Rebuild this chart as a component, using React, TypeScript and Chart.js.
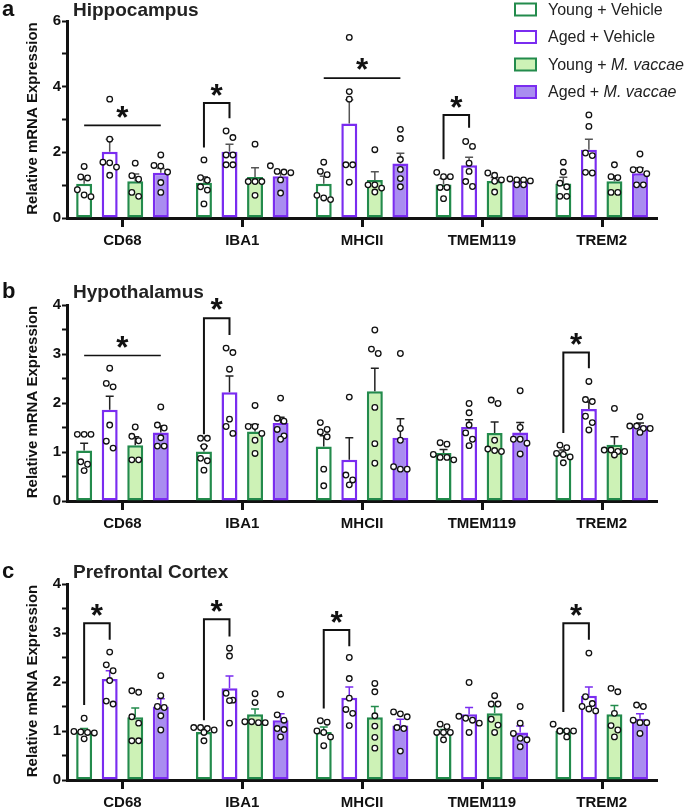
import React, { useEffect, useRef } from "react";
import { Chart, registerables } from "chart.js";
Chart.register(...registerables);

// ---------------- DATA ----------------
const categories = ["CD68", "IBA1", "MHCII", "TMEM119", "TREM2"];
const groupLabels = ["Young + Vehicle", "Aged + Vehicle", "Young + M. vaccae", "Aged + M. vaccae"];

// Hippocampus (a): rows = groups [YV, AV, YM, AM], columns = genes
const hipMeans = [
  [1.04, 1.07, 1.04, 1.02, 1.05],
  [2.02, 2.02, 2.88, 1.61, 2.08],
  [1.12, 1.25, 1.16, 1.13, 1.12],
  [1.38, 1.27, 1.66, 1.12, 1.36],
];
const hipSems = [
  [0.15, 0.19, 0.23, 0.18, 0.19],
  [0.38, 0.23, 0.72, 0.24, 0.32],
  [0.22, 0.28, 0.25, 0.10, 0.17],
  [0.13, 0.12, 0.31, 0.06, 0.17],
];
const hipPoints = [
  [[1.57, 1.25, 1.22, 0.86, 0.7, 0.65], [1.77, 1.23, 1.15, 0.95, 0.85, 0.43], [1.7, 1.42, 1.32, 0.69, 0.61, 0.56], [1.39, 1.26, 1.26, 0.93, 0.93, 0.59], [1.7, 1.4, 1.06, 0.95, 0.66, 0.66]],
  [[3.62, 2.4, 1.7, 1.68, 1.55, 1.3], [2.65, 2.45, 1.92, 1.92, 1.62, 1.62], [5.5, 3.85, 3.62, 1.62, 1.62, 1.09], [2.33, 2.18, 1.67, 1.42, 1.11, 0.96], [3.14, 2.79, 1.98, 1.9, 1.39, 1.37]],
  [[1.67, 1.29, 1.18, 0.78, 0.66], [2.25, 1.11, 1.11, 1.11, 0.69], [2.08, 1.01, 1.01, 0.91, 0.79], [1.37, 1.3, 1.16, 1.12, 0.79], [1.62, 1.26, 1.23, 0.78, 0.78]],
  [[1.92, 1.6, 1.58, 1.4, 1.08, 0.78], [1.59, 1.42, 1.4, 1.38, 1.16, 0.76], [2.7, 2.42, 1.78, 1.48, 1.2, 0.95], [1.19, 1.16, 1.16, 1.13, 1.01, 1.01], [1.95, 1.47, 1.47, 1.35, 1.01, 1.01]],
];
const hipSig = [
  { cat: 0, kind: "line", a: 0, b: 3, top: 2.82, star: 3.24 },
  { cat: 1, kind: "bracket", a: 0, b: 1, top: 3.5, left: 2.15, right: 3.04, star: 3.9 },
  { cat: 2, kind: "line", a: 0, b: 3, top: 4.26, star: 4.68 },
  { cat: 3, kind: "bracket", a: 0, b: 1, top: 3.14, left: 1.79, right: 2.75, star: 3.54 },
];

// Hypothalamus (b)
const hypMeans = [
  [1.03, 1.01, 1.11, 0.98, 0.97],
  [1.86, 2.22, 0.84, 1.51, 1.88],
  [1.14, 1.42, 2.24, 1.39, 1.15],
  [1.4, 1.59, 1.29, 1.4, 1.54],
];
const hypSems = [
  [0.15, 0.11, 0.22, 0.07, 0.07],
  [0.28, 0.33, 0.45, 0.15, 0.14],
  [0.17, 0.14, 0.47, 0.22, 0.16],
  [0.13, 0.12, 0.39, 0.2, 0.05],
];
const hypPoints = [
  [[1.36, 1.36, 1.36, 0.8, 0.75, 0.62], [1.28, 1.28, 1.11, 0.87, 0.82, 0.63], [1.6, 1.46, 1.41, 1.31, 0.65, 0.31], [1.19, 1.16, 0.95, 0.89, 0.89, 0.84], [1.14, 1.09, 0.97, 0.95, 0.9, 0.78]],
  [[2.71, 2.4, 2.33, 1.55, 1.22, 1.08], [3.12, 3.03, 2.69, 1.67, 1.52, 1.38], [2.12, 0.53, 0.43, 0.33], [1.99, 1.8, 1.55, 1.39, 1.26, 1.13], [2.44, 2.07, 2.03, 1.73, 1.6, 1.45]],
  [[1.51, 1.32, 1.23, 0.84, 0.84], [1.95, 1.52, 1.52, 1.38, 1.24, 0.97], [3.49, 3.1, 3.01, 1.91, 1.17, 0.77], [2.06, 1.99, 1.24, 1.06, 1.03, 1.01], [1.89, 1.04, 1.04, 1.01, 1.01, 0.94]],
  [[1.92, 1.55, 1.49, 1.29, 1.12, 1.12], [2.1, 1.69, 1.63, 1.46, 1.33, 1.26], [3.01, 1.48, 1.24, 0.7, 0.65, 0.65], [2.25, 1.5, 1.26, 1.26, 1.18, 0.96], [1.72, 1.53, 1.53, 1.48, 1.48, 1.4]],
];
const hypSig = [
  { cat: 0, kind: "line", a: 0, b: 3, top: 2.97, star: 3.25 },
  { cat: 1, kind: "bracket", a: 0, b: 1, top: 3.73, left: 1.36, right: 3.39, star: 4.03 },
  { cat: 4, kind: "bracket", a: 0, b: 1, top: 3.03, left: 1.39, right: 2.71, star: 3.31 },
];

// Prefrontal Cortex (c)
const pfcMeans = [
  [1.0, 0.98, 0.98, 0.98, 1.0],
  [2.06, 1.87, 1.68, 1.34, 1.72],
  [1.28, 1.34, 1.28, 1.36, 1.34],
  [1.5, 1.22, 1.11, 0.97, 1.25],
];
const pfcSems = [
  [0.05, 0.05, 0.1, 0.05, 0.03],
  [0.17, 0.25, 0.22, 0.14, 0.18],
  [0.19, 0.11, 0.22, 0.14, 0.18],
  [0.16, 0.13, 0.13, 0.13, 0.1],
];
const pfcPoints = [
  [[1.26, 0.99, 0.98, 0.97, 0.96, 0.84], [1.07, 1.07, 1.05, 1.02, 0.97, 0.8], [1.21, 1.18, 1.0, 0.97, 0.88, 0.7], [1.14, 1.09, 0.97, 0.97, 0.97, 0.82], [1.14, 1.0, 1.0, 1.0, 1.0, 0.88]],
  [[2.61, 2.35, 2.23, 2.03, 1.61, 1.55], [2.69, 2.53, 1.77, 1.63, 1.62, 1.16], [2.5, 2.07, 1.67, 1.44, 1.36, 1.11], [1.99, 1.3, 1.26, 1.22, 1.16, 0.97], [2.59, 1.7, 1.56, 1.5, 1.45, 1.41]],
  [[1.82, 1.79, 1.29, 1.16, 0.8, 0.8], [1.76, 1.58, 1.19, 1.19, 1.17, 1.17], [1.97, 1.8, 1.31, 1.1, 0.87, 0.65], [1.72, 1.55, 1.55, 1.24, 1.12, 0.97], [1.87, 1.8, 1.36, 1.11, 1.02, 0.88]],
  [[2.13, 1.72, 1.5, 1.48, 1.31, 1.02], [1.75, 1.33, 1.22, 1.05, 1.03, 0.88], [1.39, 1.35, 1.29, 1.07, 1.05, 0.59], [1.5, 1.16, 0.95, 0.85, 0.82, 0.68], [1.53, 1.5, 1.22, 1.17, 1.17, 0.95]],
];
const pfcSig = [
  { cat: 0, kind: "bracket", a: 0, b: 1, top: 3.2, left: 1.53, right: 2.86, star: 3.47 },
  { cat: 1, kind: "bracket", a: 0, b: 1, top: 3.28, left: 1.22, right: 2.93, star: 3.55 },
  { cat: 2, kind: "bracket", a: 0, b: 1, top: 3.06, left: 1.46, right: 2.73, star: 3.33 },
  { cat: 4, kind: "bracket", a: 0, b: 1, top: 3.2, left: 1.39, right: 2.86, star: 3.47 },
];

// ---------------- STYLE ----------------
const FONT = '"Liberation Sans", Arial, Helvetica, sans-serif';
const GREEN = "#238b4c";
const LIGHT_GREEN = "#cdf2b6";
const PURPLE = "#7a2cf0";
const LAVENDER = "#a98df0";
const borderColors = [GREEN, PURPLE, GREEN, PURPLE];
const fillColors = ["#ffffff", "#ffffff", LIGHT_GREEN, LAVENDER];

const W = 685;
const AREA_LEFT = 67;
const AREA_RIGHT = 657;
const X_MIN = -0.463;
const X_MAX = 4.462;
const CAT_PCT = 0.853;
const BAR_PCT = 0.625;
const X_TICK_LEN = 9;

type Sig = { cat: number; kind: string; a: number; b: number; top: number; left?: number; right?: number; star: number };
type PanelSpec = {
  letter: string;
  title: string;
  top: number;
  height: number;
  areaTop: number;
  areaBottom: number;
  titleBaseline: number;
  yMax: number;
  yStep: number;
  yLabelEvery: number;
  means: number[][];
  sems: number[][];
  points: number[][][];
  sig: Sig[];
  errColors: string[];
  legend: boolean;
};

const panels: PanelSpec[] = [
  {
    letter: "a", title: "Hippocampus", top: 0, height: 262, areaTop: 21, areaBottom: 218, titleBaseline: 16,
    yMax: 6, yStep: 1, yLabelEvery: 2, means: hipMeans, sems: hipSems, points: hipPoints, sig: hipSig,
    errColors: ["#555", "#555", "#555", "#555"], legend: true,
  },
  {
    letter: "b", title: "Hypothalamus", top: 270, height: 262, areaTop: 35, areaBottom: 231, titleBaseline: 28,
    yMax: 4, yStep: 0.5, yLabelEvery: 1, means: hypMeans, sems: hypSems, points: hypPoints, sig: hypSig,
    errColors: ["#222", "#222", "#222", "#222"], legend: false,
  },
  {
    letter: "c", title: "Prefrontal Cortex", top: 540, height: 269, areaTop: 44, areaBottom: 240, titleBaseline: 38,
    yMax: 4, yStep: 0.5, yLabelEvery: 1, means: pfcMeans, sems: pfcSems, points: pfcPoints, sig: pfcSig,
    errColors: [GREEN, PURPLE, GREEN, PURPLE], legend: false,
  },
];

// Horizontal spreading of overlapping dots (pixel offsets), GraphPad-like rows
function swarmOffsets(values: number[], pxPerUnit: number): number[] {
  const idx = values.map((_, i) => i).sort((p, q) => values[q] - values[p]);
  const offsets = new Array(values.length).fill(0);
  const D = 7;
  const SP = 6.8;
  let cluster: number[] = [];
  const flush = () => {
    const n = cluster.length;
    cluster.forEach((k, j) => (offsets[k] = (j - (n - 1) / 2) * SP));
    cluster = [];
  };
  for (const k of idx) {
    if (cluster.length && ((values[cluster[0]] - values[k]) * pxPerUnit >= D || cluster.length >= 4)) flush();
    cluster.push(k);
  }
  flush();
  return offsets;
}

function drawStar(ctx: CanvasRenderingContext2D, x: number, y: number) {
  ctx.font = `bold 34px ${FONT}`;
  const m = ctx.measureText("*");
  const h = m.actualBoundingBoxAscent + m.actualBoundingBoxDescent || 10;
  const size = (34 * 12) / h;
  ctx.font = `bold ${size}px ${FONT}`;
  const m2 = ctx.measureText("*");
  ctx.textAlign = "center";
  ctx.textBaseline = "alphabetic";
  ctx.fillStyle = "#111";
  ctx.fillText("*", x, y + (m2.actualBoundingBoxAscent - m2.actualBoundingBoxDescent) / 2);
}

function makeDecor(spec: PanelSpec) {
  return {
    id: "decor",
    afterDatasetDraw(chart: any, args: any) {
      if (args.index !== 0) return;
      const y = chart.scales.y;
      const ctx: CanvasRenderingContext2D = chart.ctx;
      ctx.save();
      spec.means.forEach((row, g) => {
        const meta = chart.getDatasetMeta(g);
        row.forEach((m, i) => {
          const px = meta.data[i].x;
          const y0 = y.getPixelForValue(m);
          const y1 = y.getPixelForValue(m + spec.sems[g][i]);
          ctx.strokeStyle = spec.errColors[g];
          ctx.lineWidth = 1.5;
          ctx.beginPath();
          ctx.moveTo(px, y0);
          ctx.lineTo(px, y1);
          ctx.moveTo(px - 4, y1);
          ctx.lineTo(px + 4, y1);
          ctx.stroke();
        });
      });
      ctx.restore();
    },
    afterDraw(chart: any) {
      const ctx: CanvasRenderingContext2D = chart.ctx;
      const x = chart.scales.x;
      const y = chart.scales.y;
      const area = chart.chartArea;
      ctx.save();
      // x-axis category tick marks (one under each category centre)
      ctx.strokeStyle = "#111";
      ctx.lineWidth = 3;
      ctx.beginPath();
      categories.forEach((_, i) => {
        const px = Math.round(x.getPixelForValue(i)) + 0.5;
        ctx.moveTo(px, area.bottom);
        ctx.lineTo(px, area.bottom + X_TICK_LEN);
      });
      ctx.stroke();
      // letter and title
      ctx.fillStyle = "#111";
      ctx.textAlign = "left";
      ctx.textBaseline = "alphabetic";
      ctx.font = `bold 22px ${FONT}`;
      ctx.fillText(spec.letter, 2, spec.titleBaseline);
      ctx.font = `bold 19px ${FONT}`;
      ctx.fillStyle = "#222";
      ctx.fillText(spec.title, 73, spec.titleBaseline);
      // y axis title
      ctx.save();
      ctx.translate(33, (area.top + area.bottom) / 2 - 1);
      ctx.rotate(-Math.PI / 2);
      ctx.textAlign = "center";
      ctx.textBaseline = "middle";
      ctx.font = `bold 15px ${FONT}`;
      ctx.fillStyle = "#111";
      ctx.fillText("Relative mRNA Expression", 0, 0);
      ctx.restore();
      // significance marks
      spec.sig.forEach((s) => {
        const xa = chart.getDatasetMeta(s.a).data[s.cat].x;
        const xb = chart.getDatasetMeta(s.b).data[s.cat].x;
        const yt = y.getPixelForValue(s.top);
        ctx.strokeStyle = "#111";
        ctx.beginPath();
        if (s.kind === "line") {
          ctx.lineWidth = 1.6;
          ctx.moveTo(xa, yt);
          ctx.lineTo(xb, yt);
        } else {
          ctx.lineWidth = 2;
          ctx.moveTo(xa, y.getPixelForValue(s.left as number));
          ctx.lineTo(xa, yt);
          ctx.lineTo(xb, yt);
          ctx.lineTo(xb, y.getPixelForValue(s.right as number));
        }
        ctx.stroke();
        drawStar(ctx, (xa + xb) / 2, y.getPixelForValue(s.star));
      });
      // legend
      if (spec.legend) {
        groupLabels.forEach((label, g) => {
          const cy = 9.5 + g * 27.5;
          ctx.fillStyle = fillColors[g];
          ctx.strokeStyle = borderColors[g];
          ctx.lineWidth = 2;
          ctx.fillRect(515, cy - 6, 21, 12);
          ctx.strokeRect(515, cy - 6, 21, 12);
          ctx.fillStyle = "#222";
          ctx.textAlign = "left";
          ctx.textBaseline = "middle";
          const it = label.indexOf("M. vaccae");
          const plain = it >= 0 ? label.slice(0, it) : label;
          ctx.font = `16px ${FONT}`;
          ctx.fillText(plain, 548, cy + 1);
          if (it >= 0) {
            const w = ctx.measureText(plain).width;
            ctx.font = `italic 16px ${FONT}`;
            ctx.fillText(label.slice(it), 548 + w, cy + 1);
          }
        });
      }
      ctx.restore();
    },
  };
}

function buildConfig(spec: PanelSpec): any {
  const pxPerX = (AREA_RIGHT - AREA_LEFT) / (X_MAX - X_MIN);
  const pxPerY = (spec.areaBottom - spec.areaTop) / spec.yMax;
  const bars = spec.means.map((row, g) => ({
    type: "bar",
    label: groupLabels[g],
    data: row.map((m, i) => ({ x: i, y: m })),
    backgroundColor: fillColors[g],
    borderColor: borderColors[g],
    borderWidth: 2.5,
    borderSkipped: false,
    barPercentage: BAR_PCT,
    categoryPercentage: CAT_PCT,
    order: 1,
  }));
  const dots = spec.points.map((genes, g) => ({
    type: "scatter",
    label: groupLabels[g] + " points",
    data: genes.flatMap((vals, i) => {
      const offs = swarmOffsets(vals, pxPerY);
      return vals.map((v, k) => ({ x: i + ((g - 1.5) * CAT_PCT) / 4 + offs[k] / pxPerX, y: v }));
    }),
    pointRadius: 2.8,
    pointBorderWidth: 1.3,
    pointBackgroundColor: "#ffffff",
    pointBorderColor: "#111111",
    showLine: false,
    clip: false,
    order: 0,
  }));
  const tickFont = { family: FONT, size: 15, weight: "bold" };
  return {
    type: "bar",
    data: { datasets: [...bars, ...dots] },
    options: {
      animation: false,
      responsive: false,
      devicePixelRatio: 1,
      layout: { padding: { top: spec.areaTop, right: W - AREA_RIGHT, left: 0, bottom: 0 } },
      plugins: { legend: { display: false }, tooltip: { enabled: false }, title: { display: false } },
      scales: {
        x: {
          type: "linear",
          min: X_MIN,
          max: X_MAX,
          offset: false,
          afterBuildTicks: (s: any) => {
            s.ticks = categories.map((_, i) => ({ value: i }));
          },
          afterFit: (s: any) => {
            s.height = spec.height - spec.areaBottom;
          },
          ticks: {
            callback: (v: any) => categories[Math.round(v)] ?? "",
            font: tickFont,
            color: "#111",
            padding: 5,
            maxRotation: 0,
            autoSkip: false,
          },
          grid: { display: false, offset: false, drawOnChartArea: false, drawTicks: true, tickLength: X_TICK_LEN },
          border: { display: true, width: 3, color: "#111" },
        },
        y: {
          type: "linear",
          min: 0,
          max: spec.yMax,
          afterFit: (s: any) => {
            s.width = AREA_LEFT;
          },
          ticks: {
            stepSize: spec.yStep,
            autoSkip: false,
            callback: (v: any) => (Math.abs(v / spec.yLabelEvery - Math.round(v / spec.yLabelEvery)) < 1e-6 ? String(v) : ""),
            font: tickFont,
            color: "#111",
            padding: 1,
          },
          grid: { drawOnChartArea: false, drawTicks: true, tickLength: 5, tickWidth: 2, tickColor: "#111" },
          border: { display: true, width: 3, color: "#111" },
        },
      },
    },
    plugins: [makeDecor(spec)],
  };
}

function Panel({ spec }: { spec: PanelSpec }) {
  const ref = useRef<HTMLCanvasElement>(null);
  useEffect(() => {
    const chart = new Chart(ref.current as HTMLCanvasElement, buildConfig(spec));
    return () => chart.destroy();
  }, [spec]);
  return (
    <canvas
      ref={ref}
      width={W}
      height={spec.height}
      style={{ position: "absolute", left: 0, top: spec.top, width: W, height: spec.height, display: "block" }}
    />
  );
}

export default function App() {
  return (
    <div style={{ position: "absolute", left: 0, top: 0, width: W, height: 809, overflow: "hidden", background: "#fff" }}>
      {panels.map((p) => (
        <Panel key={p.letter} spec={p} />
      ))}
    </div>
  );
}
